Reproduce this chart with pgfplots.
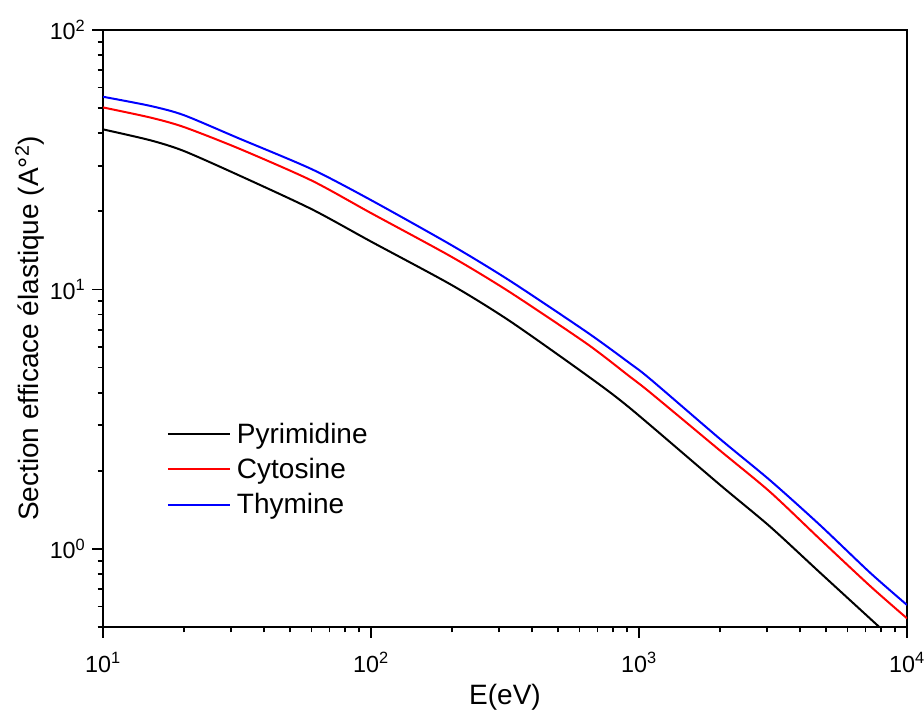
\documentclass[border=0pt]{standalone}
\usepackage{pgfplots}
\pgfplotsset{compat=1.18}
\usepackage{fontspec}
\setmainfont{Liberation Sans}
\begin{document}
\begin{tikzpicture}
\begin{axis}[name=ax,
  scale only axis, width=603pt, height=447.75pt,
  xmode=log, ymode=log,
  xmin=10, xmax=10000, ymin=0.5, ymax=100,
  tick pos=left, tick align=outside,
  major tick length=8pt, minor tick length=4pt,
  axis line style={line width=1.3pt},
  every tick/.style={black, line width=1.3pt},
  tick label style={font=\fontsize{17.5}{20}\selectfont},
  xticklabel style={anchor=north, inner sep=0pt, yshift=-11pt},
  yticklabel style={anchor=east, inner sep=0pt, xshift=-5pt},
  xticklabel={\pgfmathtruncatemacro\ee{round(\tick/2.302585093)}10\textsuperscript{\ee}},
  yticklabel={\pgfmathtruncatemacro\ee{round(\tick/2.302585093)}10\textsuperscript{\ee}},
  label style={font=\fontsize{21}{25}\selectfont},
  xlabel={E(eV)},
  ylabel={Section efficace élastique (A°\textsuperscript{2})},
  xlabel style={at={(axis description cs:0.5,-0.117)}, anchor=center},
  ylabel style={at={(axis description cs:-0.0908,0.5)}, anchor=center},
  legend cell align=left,
  legend style={draw=none, fill=none, at={(axis description cs:0.0792,0.264)}, anchor=west,
    inner sep=0pt, font=\fontsize{21}{25}\selectfont, row sep=5.75pt,
    /tikz/every odd column/.append style={column sep=2.5pt}},
  legend image code/.code={\draw[line width=1.5pt] (0pt,0pt) -- (46.5pt,0pt);},
  every axis plot/.append style={line width=1.5pt, smooth, tension=0.45},
]
\addplot[black] coordinates {
(10,41.4) (15,37.6) (20,34.2) (32,27.6) (60,20.4) (100,15.3) (200,10.4) (330,7.55)
(640,4.66) (925,3.49) (2000,1.77) (3080,1.22) (4736,0.810) (7816,0.504) (10000,0.399)};
\addlegendentry{Pyrimidine}
\addplot[red] coordinates {
(10,50.3) (15,46.0) (20,42.3) (32,35.0) (60,26.3) (100,19.7) (200,13.35) (330,9.76)
(640,6.17) (925,4.61) (1100,4.01) (2000,2.40) (3080,1.66) (4736,1.090) (7278,0.720) (10000,0.540)};
\addlegendentry{Cytosine}
\addplot[blue] coordinates {
(10,55.3) (15,51.0) (20,47.0) (32,38.3) (60,29.1) (100,22.1) (200,14.8) (330,10.8)
(640,6.84) (925,5.19) (1100,4.52) (2000,2.66) (3080,1.84) (4736,1.235) (7278,0.810) (10000,0.608)};
\addlegendentry{Thymine}
\end{axis}
\pgfresetboundingbox
\path ([xshift=-77.25pt,yshift=-66pt]ax.south west) rectangle ([xshift=12.75pt,yshift=22.5pt]ax.north east);
\end{tikzpicture}
\end{document}
